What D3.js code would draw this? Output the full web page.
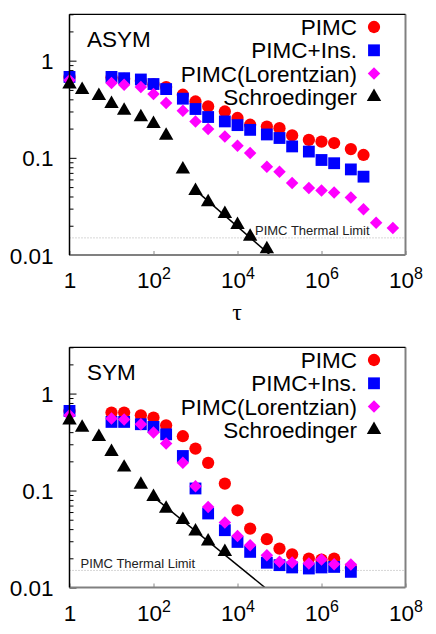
<!DOCTYPE html>
<html>
<head>
<meta charset="utf-8">
<script src="https://cdn.jsdelivr.net/npm/d3@7"></script>
<style>
  body { margin: 0; background: #fff; }
  svg { display: block; font-family: "Liberation Sans", Arial, sans-serif; }
</style>
</head>
<body>
<svg id="chart" width="436" height="634"></svg>
<script>
// tau values (x) and series values
const tauMain = [1, 10, 20, 50, 100, 200, 500, 1e3, 2e3, 5e3, 1e4, 2e4, 5e4, 1e5, 2e5, 5e5, 1e6, 2e6, 5e6, 1e7];
const tauLong = [1, 10, 20, 50, 100, 200, 500, 1e3, 2e3, 5e3, 1e4, 2e4, 5e4, 1e5, 2e5, 5e5, 1e6, 2e6, 5e6, 1e7, 2e7, 5e7];
const tauSym = [1, 10, 20, 50, 100, 200, 500, 1e3, 2e3, 5e3, 1e4, 2e4, 5e4, 1e5, 2e5, 5e5, 1e6, 2e6, 5e6];
const tauSchAsym = [1, 2, 5, 10, 20, 50, 100, 200, 500, 1e3, 2e3, 5e3, 1e4, 2e4, 5e4];
const tauSchSym = [1, 2, 5, 10, 20, 50, 100, 200, 500, 1e3, 2e3, 5e3];

// ASYM panel
const asymPimc = [0.68, 0.67, 0.65, 0.62, 0.57, 0.535, 0.446, 0.38, 0.338, 0.30, 0.257, 0.219, 0.21, 0.202, 0.17, 0.153, 0.147, 0.142, 0.123, 0.107];
const asymIns = [0.68, 0.68, 0.66, 0.64, 0.575, 0.51, 0.406, 0.318, 0.263, 0.237, 0.217, 0.194, 0.174, 0.16, 0.131, 0.116, 0.095, 0.088, 0.076, 0.064];
const asymLor = [0.63, 0.589, 0.566, 0.535, 0.453, 0.366, 0.305, 0.237, 0.198, 0.166, 0.133, 0.112, 0.081, 0.072, 0.055, 0.049, 0.046, 0.044, 0.039, 0.0296, 0.0215, 0.019];
const asymSch = [0.57, 0.50, 0.435, 0.36, 0.307, 0.262, 0.224, 0.169, 0.076, 0.0457, 0.035, 0.0265, 0.0204, 0.0155, 0.0115];
const asymFit = [[1e3, 0.0465], [6e4, 0.01]];

// SYM panel
const symPimc = [0.66, 0.637, 0.637, 0.597, 0.566, 0.471, 0.363, 0.271, 0.193, 0.118, 0.0626, 0.0405, 0.0315, 0.0252, 0.022, 0.0199, 0.0194, 0.0199, 0.016];
const symIns = [0.662, 0.51, 0.51, 0.483, 0.453, 0.38, 0.227, 0.105, 0.058, 0.039, 0.0295, 0.0233, 0.018, 0.017, 0.0161, 0.0157, 0.0161, 0.0163, 0.0145];
const symLor = [0.597, 0.552, 0.539, 0.483, 0.396, 0.305, 0.193, 0.111, 0.0678, 0.0468, 0.034, 0.0273, 0.0215, 0.0184, 0.0181, 0.0177, 0.0194, 0.0174, 0.0173];
const symSch = [0.53, 0.446, 0.357, 0.25, 0.173, 0.115, 0.086, 0.065, 0.050, 0.038, 0.030, 0.0233];
const symFit = [[100, 0.086], [4.5e4, 0.01]];

const thermalLimit = 0.015;
const legendNames = ["PIMC", "PIMC+Ins.", "PIMC(Lorentzian)", "Schroedinger"];
const xTicks = [1, 1e2, 1e4, 1e6, 1e8];
const yTicks = [0.01, 0.1, 1];

const svg = d3.select("#chart");
const left = 69.5, right = 405.5;
const fs = 22.5;

const symbols = [d3.symbolCircle, d3.symbolSquare, d3.symbolDiamond2, d3.symbolTriangle];
const colors = ["#ff0000", "#0000ff", "#ff00ff", "#000000"];
const sizes = [118, 140, 100, 90];

function panel(top, bottom, title, series, fit, idx) {
  const x = d3.scaleLog().domain([1, 1e8]).range([left, right]);
  const y = d3.scaleLog().domain([0.01, 3]).range([bottom, top]);
  const g = svg.append("g");

  g.append("clipPath").attr("id", "clip" + idx)
    .append("rect").attr("x", left).attr("y", top)
    .attr("width", right - left).attr("height", bottom - top);

  // minor y ticks (inward)
  const minor = [];
  [0.01, 0.1, 1].forEach(d => { for (let k = 2; k <= 9; k++) if (d * k <= 3) minor.push(d * k); });
  g.append("g").attr("transform", `translate(${left},0)`)
    .call(d3.axisLeft(y).tickValues(minor).tickSize(-4).tickFormat(""))
    .call(s => s.select(".domain").remove())
    .selectAll("line").attr("stroke", "#000");

  // major y axis
  const ya = g.append("g").attr("transform", `translate(${left},0)`)
    .call(d3.axisLeft(y).tickValues(yTicks).tickSize(-7).tickPadding(16)
      .tickFormat(d => d >= 1 ? "1" : String(d)));
  ya.select(".domain").remove();
  ya.selectAll("text").attr("font-size", fs).attr("font-family", "Liberation Sans, Arial, sans-serif")
    .attr("fill", "#000").attr("x", -16).attr("dy", "0.36em");

  // x axis
  const xa = g.append("g").attr("transform", `translate(0,${bottom})`)
    .call(d3.axisBottom(x).tickValues(xTicks).tickSize(-4).tickPadding(14).tickFormat(""));
  xa.select(".domain").remove();
  xa.selectAll("line").attr("stroke", "#888").attr("stroke-width", 1);
  xa.selectAll(".tick").each(function (d) {
    const t = d3.select(this).append("text")
      .attr("y", 33).attr("fill", "#000").attr("text-anchor", "middle")
      .attr("font-size", fs).attr("font-family", "Liberation Sans, Arial, sans-serif");
    if (d === 1) { t.text("1"); return; }
    t.append("tspan").text("10");
    t.append("tspan").attr("font-size", 16).attr("dy", -9).text(Math.round(Math.log10(d)));
  });

  // thermal limit
  g.append("line").attr("x1", left).attr("x2", right)
    .attr("y1", y(thermalLimit)).attr("y2", y(thermalLimit))
    .attr("stroke", "#999").attr("stroke-width", 0.8).attr("stroke-dasharray", "1,2");
  g.append("text").attr("x", idx === 0 ? 255 : 80.5).attr("y", y(thermalLimit) - 2.5)
    .attr("font-size", 13).attr("fill", "#222").text("PIMC Thermal Limit");

  // fit line
  g.append("path").datum(fit)
    .attr("clip-path", `url(#clip${idx})`)
    .attr("fill", "none").attr("stroke", "#000").attr("stroke-width", 1.5)
    .attr("d", d3.line().x(d => x(d[0])).y(d => y(d[1])));

  // points
  series.forEach((s, i) => {
    g.append("g").selectAll("path").data(s.tau.map((t, j) => [t, s.v[j]]))
      .join("path")
      .attr("transform", d => `translate(${x(d[0])},${y(d[1])})`)
      .attr("d", d3.symbol().type(symbols[i]).size(sizes[i]))
      .attr("fill", colors[i]);
  });

  // frame
  g.append("line").attr("x1", left).attr("x2", right).attr("y1", bottom).attr("y2", bottom)
    .attr("stroke", "#808080").attr("stroke-width", 2);
  g.append("line").attr("x1", right).attr("x2", right).attr("y1", top).attr("y2", bottom)
    .attr("stroke", "#808080").attr("stroke-width", 2);
  g.append("line").attr("x1", left).attr("x2", right).attr("y1", top).attr("y2", top)
    .attr("stroke", "#000").attr("stroke-width", 1.2);
  g.append("line").attr("x1", left).attr("x2", left).attr("y1", top).attr("y2", bottom)
    .attr("stroke", "#000").attr("stroke-width", 1.5);

  // title
  g.append("text").attr("x", 87).attr("y", top + 33).attr("font-size", fs).text(title);

  // legend
  legendNames.forEach((name, i) => {
    const cy = top + 12.7 + i * 23.3;
    g.append("text").attr("x", 357).attr("y", cy + 8).attr("text-anchor", "end")
      .attr("font-size", fs).text(name);
    g.append("path").attr("transform", `translate(374,${cy})`)
      .attr("d", d3.symbol().type(symbols[i]).size(sizes[i])).attr("fill", colors[i]);
  });
}

panel(14.3, 255, "ASYM", [
  { tau: tauMain, v: asymPimc },
  { tau: tauMain, v: asymIns },
  { tau: tauLong, v: asymLor },
  { tau: tauSchAsym, v: asymSch }
], asymFit, 0);

panel(347.3, 587.5, "SYM", [
  { tau: tauSym, v: symPimc },
  { tau: tauSym, v: symIns },
  { tau: tauSym, v: symLor },
  { tau: tauSchSym, v: symSch }
], symFit, 1);

// x axis title (upper panel only)
svg.append("text").attr("x", 237).attr("y", 320).attr("text-anchor", "middle")
  .attr("font-family", "Liberation Serif, serif").attr("font-size", 24).text("τ");
</script>
</body>
</html>
